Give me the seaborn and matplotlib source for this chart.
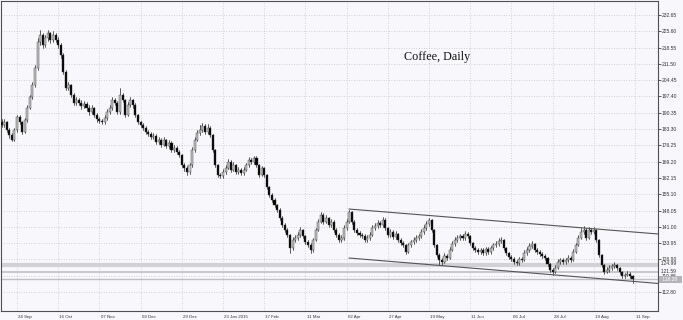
import numpy as np
import pandas as pd
import matplotlib
matplotlib.use("Agg")
import matplotlib.pyplot as plt
from matplotlib.transforms import ScaledTranslation
import seaborn as sns

# ---------------- data ----------------
first_index = -6
first_open = 186.5
closes = [
    185.0, 186.3, 182.9, 180.7, 178.6, 182.9,
    188.5, 186.3, 182.0, 187.2, 192.4, 197.2, 202.4, 209.7, 221.0, 224.0,
    219.7, 222.7, 224.9, 221.8, 224.0, 221.8, 219.7, 215.3, 208.0, 201.1,
    202.4, 198.0, 194.6, 195.9, 194.6, 193.3, 194.1, 192.4, 190.7, 192.4,
    189.4, 187.6, 186.8, 186.3, 188.0, 190.7, 192.4, 195.9, 194.6, 190.7,
    198.0, 195.9, 189.4, 193.7, 195.9, 193.7, 189.4, 186.3, 185.0, 183.8,
    182.0, 181.2, 179.9, 180.3, 177.7, 178.6, 176.4, 178.6, 176.0, 177.3,
    174.2, 175.1, 173.4, 172.0, 167.7, 166.4, 164.7, 167.7, 174.2, 178.6,
    181.6, 182.9, 184.6, 182.0, 183.8, 180.7, 174.2, 167.7, 163.4, 163.0,
    164.7, 166.4, 169.0, 165.6, 167.7, 164.7, 165.6, 164.3, 165.6, 167.7,
    169.9, 169.0, 170.8, 167.7, 163.4, 166.4, 163.4, 158.2, 154.8, 152.6,
    150.4, 148.3, 144.8, 141.8, 139.6, 137.5, 131.8, 135.3, 136.2, 137.5,
    139.6, 137.0, 134.4, 133.1, 130.9, 135.3, 139.6, 143.1, 146.1, 143.1,
    144.8, 141.8, 143.1, 139.6, 137.5, 135.3, 136.2, 140.5, 143.1, 147.4,
    143.1, 139.6, 138.3, 137.5, 137.0, 135.3, 136.2, 137.5, 140.5, 141.3,
    142.7, 141.8, 144.0, 140.5, 137.5, 138.8, 136.6, 137.9, 135.3, 134.0,
    133.1, 130.1, 133.1, 134.4, 135.3, 136.2, 137.0, 138.8, 140.5, 142.2,
    144.0, 139.6, 133.1, 128.8, 126.6, 125.8, 128.4, 127.5, 131.0, 133.6,
    135.3, 136.2, 137.0, 136.2, 137.9, 137.0, 134.0, 131.8, 131.0, 130.1,
    131.0, 129.7, 131.4, 130.1, 131.8, 133.1, 133.6, 134.9, 135.3, 131.8,
    129.7, 127.9, 127.1, 125.8, 125.3, 127.1, 126.6, 129.7, 131.0, 132.7,
    133.6, 131.0, 130.1, 129.3, 128.4, 127.5, 124.9, 122.3, 121.4, 123.2,
    125.8, 126.6, 125.8, 126.6, 127.5, 126.6, 130.1, 133.1, 136.2, 138.8,
    139.6, 136.2, 139.6, 138.8, 139.6, 135.3, 128.8, 124.5, 121.4, 122.3,
    123.2, 124.0, 124.5, 123.2, 121.4, 119.7, 120.1, 120.6, 119.7, 118.3,
]
highs = [
    187.5, 187.5, 187.0, 183.8, 181.5, 183.8,
    189.5, 189.4, 187.0, 188.0, 193.5, 198.0, 203.5, 211.0, 222.5, 226.0,
    225.0, 224.0, 226.3, 225.5, 225.8, 225.0, 223.0, 220.5, 216.0, 208.8,
    203.8, 203.0, 198.8, 197.0, 196.8, 195.8, 195.5, 195.0, 193.5, 193.6,
    193.0, 190.2, 188.5, 187.8, 189.2, 191.8, 193.8, 197.0, 196.8, 195.5,
    201.0, 199.0, 196.5, 194.8, 197.0, 196.5, 194.5, 190.0, 187.0, 186.0,
    184.5, 183.0, 182.0, 181.5, 181.0, 179.8, 179.3, 179.8, 179.2, 178.5,
    178.0, 176.2, 176.0, 174.2, 172.5, 168.5, 167.2, 168.8, 175.5, 179.8,
    183.0, 185.0, 186.0, 185.5, 185.3, 184.5, 181.2, 174.8, 168.2, 164.5,
    166.0, 167.6, 170.5, 169.8, 169.0, 168.3, 166.8, 166.3, 166.8, 168.8,
    171.0, 170.8, 171.8, 171.5, 168.2, 167.5, 167.0, 163.8, 158.8, 155.5,
    153.3, 151.0, 149.0, 145.5, 142.5, 140.3, 138.0, 136.5, 137.3, 138.6,
    140.8, 140.2, 137.6, 135.2, 133.8, 136.3, 140.6, 144.2, 147.2, 146.8,
    146.0, 145.4, 144.3, 143.8, 140.3, 138.2, 137.3, 141.6, 144.3, 148.4,
    148.0, 143.8, 140.5, 139.2, 138.5, 137.7, 137.3, 138.6, 141.6, 142.5,
    143.9, 143.6, 145.2, 144.6, 141.0, 140.0, 139.5, 139.0, 138.5, 136.0,
    134.8, 133.7, 134.2, 135.5, 136.4, 137.3, 138.1, 139.9, 141.6, 143.3,
    145.0, 144.5, 140.0, 133.5, 129.5, 127.5, 129.5, 129.3, 132.1, 134.7,
    136.4, 137.3, 138.1, 137.8, 139.0, 138.7, 137.6, 134.6, 132.7, 131.8,
    132.0, 131.7, 132.4, 132.1, 132.8, 134.2, 134.7, 136.0, 136.5, 135.9,
    132.4, 130.3, 128.7, 127.8, 126.6, 128.1, 128.0, 130.8, 132.1, 133.8,
    134.8, 134.2, 131.8, 130.9, 130.0, 129.1, 128.1, 125.5, 123.0, 124.3,
    126.9, 127.7, 127.4, 127.7, 128.6, 128.2, 131.2, 134.2, 137.3, 140.4,
    141.3, 140.3, 141.0, 140.6, 140.8, 140.2, 135.8, 129.3, 125.0, 123.4,
    124.3, 125.1, 125.6, 125.1, 123.8, 122.0, 121.2, 121.7, 121.3, 120.3,
]
lows = [
    184.0, 184.2, 182.0, 179.5, 178.0, 178.0,
    182.0, 185.5, 181.0, 181.5, 186.5, 191.8, 196.5, 201.5, 209.0, 219.5,
    218.5, 218.8, 221.5, 220.5, 221.0, 220.8, 218.5, 214.0, 207.0, 200.0,
    200.0, 197.0, 193.5, 193.8, 193.5, 192.0, 192.5, 191.0, 189.5, 189.8,
    188.5, 186.5, 185.8, 185.5, 185.6, 187.3, 190.0, 191.5, 193.5, 189.8,
    190.0, 194.8, 188.5, 188.8, 192.8, 192.5, 188.3, 185.5, 184.0, 182.8,
    181.0, 180.2, 179.0, 179.0, 176.8, 176.8, 175.5, 175.8, 175.0, 175.2,
    173.2, 173.3, 172.5, 171.0, 166.8, 165.0, 163.5, 164.0, 167.0, 173.5,
    178.0, 180.8, 182.0, 181.0, 181.2, 179.8, 173.3, 166.8, 162.5, 162.0,
    162.3, 164.0, 165.8, 164.6, 165.0, 163.8, 163.8, 163.4, 163.6, 165.0,
    167.0, 168.0, 168.3, 166.8, 162.5, 162.8, 162.5, 157.3, 153.8, 151.6,
    149.4, 147.3, 143.8, 140.8, 138.6, 136.5, 129.6, 131.0, 134.5, 135.5,
    136.8, 136.0, 133.4, 132.2, 129.8, 130.3, 134.8, 139.0, 142.5, 142.2,
    142.5, 140.8, 141.0, 138.7, 136.5, 134.3, 134.5, 135.5, 139.8, 142.5,
    142.2, 138.6, 137.3, 136.5, 136.0, 134.5, 134.6, 135.5, 136.9, 139.8,
    140.6, 140.8, 141.0, 139.6, 136.6, 136.8, 135.7, 135.9, 134.3, 133.0,
    132.2, 129.2, 129.5, 132.4, 133.7, 134.6, 135.5, 136.3, 138.0, 139.8,
    141.5, 138.8, 132.2, 127.8, 124.6, 124.6, 125.2, 126.5, 126.9, 130.4,
    132.9, 134.6, 135.5, 135.3, 135.5, 136.1, 133.1, 130.9, 130.1, 129.2,
    129.4, 128.8, 129.0, 129.2, 129.4, 131.1, 132.4, 132.9, 134.2, 130.9,
    128.8, 127.0, 126.2, 124.9, 124.4, 124.6, 125.7, 126.0, 129.0, 130.3,
    132.0, 130.1, 129.2, 128.4, 127.5, 126.6, 124.0, 121.3, 120.1, 120.8,
    122.6, 125.1, 124.9, 125.1, 125.9, 125.7, 126.0, 129.5, 132.5, 135.6,
    138.0, 135.3, 135.6, 137.9, 138.0, 134.4, 127.9, 123.5, 120.4, 120.8,
    121.6, 122.5, 123.3, 122.3, 120.5, 118.8, 119.0, 119.5, 118.8, 116.5,
]

x_tick_positions = [0, 16, 32, 48, 64, 80, 96, 112, 128, 144, 160, 176, 192, 208, 224, 240]
x_tick_labels = ["24 Sep", "16 Oct", "07 Nov", "03 Dec", "29 Dec", "23 Jan 2015",
                 "17 Feb", "11 Mar", "02 Apr", "27 Apr", "19 May", "11 Jun",
                 "06 Jul", "28 Jul", "19 Aug", "11 Sep"]
y_tick_values = [112.80, 119.85, 126.90, 133.95, 141.00, 148.05, 155.10, 162.15,
                 169.20, 176.25, 183.30, 190.35, 197.40, 204.45, 211.50, 218.55,
                 225.60, 232.65]
level_values = [124.99, 121.59, 118.28]
upper_channel_x = [128.9, 248.9]
upper_channel_y = [148.7, 137.9]
lower_channel_x = [128.9, 248.9]
lower_channel_y = [127.5, 116.5]
title_text = "Coffee, Daily"

# ---------------- build table ----------------
n = len(closes)
idx = np.arange(first_index, first_index + n)
opens = [first_open] + closes[:-1]
df = pd.DataFrame({"bar": idx, "open": opens, "high": highs, "low": lows, "close": closes})
df["up"] = df["close"] >= df["open"]
df["body_lo"] = df[["open", "close"]].min(axis=1)
df["body_h"] = (df["close"] - df["open"]).abs().clip(lower=0.15)

# ---------------- style ----------------
sns.set_style("white")
plt.rcParams["font.family"] = ["Liberation Sans", "DejaVu Sans"]
BG = "#f8f8fc"

fig = plt.figure(figsize=(6.83, 3.2), dpi=100, facecolor=BG)
ax = fig.add_axes([1 / 683, 9 / 320, 657 / 683, 310 / 320])
ax.set_facecolor(BG)

# grid
ax.grid(True, linestyle=(0, (1, 2)), color="#c4c4cc", lw=0.6)
ax.set_axisbelow(True)

# horizontal levels
ax.axhline(124.5, color="#d2d2d6", lw=3.0, zorder=1)
ax.axhline(level_values[1], color="#c8c8cc", lw=1.4, zorder=1)
ax.axhline(level_values[2], color="#c0c0c4", lw=1.0, zorder=1)

# wicks (seaborn)
wick = pd.DataFrame({
    "bar": np.repeat(df["bar"].values, 2),
    "price": np.column_stack([df["low"].values, df["high"].values]).ravel(),
})
sns.lineplot(data=wick, x="bar", y="price", units="bar", estimator=None,
             color="#202020", lw=0.5, ax=ax, sort=False, legend=False, zorder=3)

# bodies
colors = np.where(df["up"], "#c4c4c4", "#000000")
ax.bar(df["bar"], df["body_h"], bottom=df["body_lo"], width=0.8,
       color=colors, edgecolor="#3a3a3a", linewidth=0.3, zorder=4)

# channel
ax.plot(upper_channel_x, upper_channel_y, color="#555555", lw=0.8, zorder=5)
ax.plot(lower_channel_x, lower_channel_y, color="#555555", lw=0.8, zorder=5)

ax.set_xlim(-6.2, 248.9)
ax.set_ylim(104.57, 238.71)
ax.set_xlabel("")
ax.set_ylabel("")

# axes frame
for s in ax.spines.values():
    s.set_color("#505050")
    s.set_linewidth(0.8)
    s.set_visible(True)

# ticks
ax.yaxis.tick_right()
ax.set_yticks(y_tick_values)
ax.set_yticklabels([f"{v:.2f}" for v in y_tick_values])
ax.set_xticks(x_tick_positions)
ax.set_xticklabels(x_tick_labels, ha="left")
ax.tick_params(axis="both", direction="out", length=2, width=0.6, color="#404040",
               labelcolor="#333333")
ax.tick_params(axis="y", labelsize=3.6, pad=0.8)
ax.tick_params(axis="x", labelsize=3.2, pad=0.6)
off = ScaledTranslation(1.2 / 100, 0, fig.dpi_scale_trans)
for lab in ax.get_xticklabels():
    lab.set_transform(lab.get_transform() + off)

# level labels on the right
tr = ax.get_yaxis_transform()
ax.text(1.0, level_values[0], f"  {level_values[0]:.2f}", transform=tr, fontsize=3.6,
        color="#333333", va="center", ha="left", clip_on=False)
ax.text(1.0, level_values[1], f"  {level_values[1]:.2f}", transform=tr, fontsize=3.6,
        color="#333333", va="center", ha="left", clip_on=False)
ax.text(1.004, level_values[2], f" {level_values[2]:.2f}   ", transform=tr, fontsize=3.6,
        color="#ffffff", va="center", ha="left", clip_on=False,
        bbox=dict(boxstyle="square,pad=0.25", facecolor="#b4b4b8", edgecolor="none"))

# title
ax.text(0.664, 0.82, title_text, transform=ax.transAxes, fontsize=8.7,
        family=["Liberation Serif", "DejaVu Serif"], color="#111111",
        ha="center", va="center")

fig.savefig("out.png", dpi=100, facecolor=BG)
